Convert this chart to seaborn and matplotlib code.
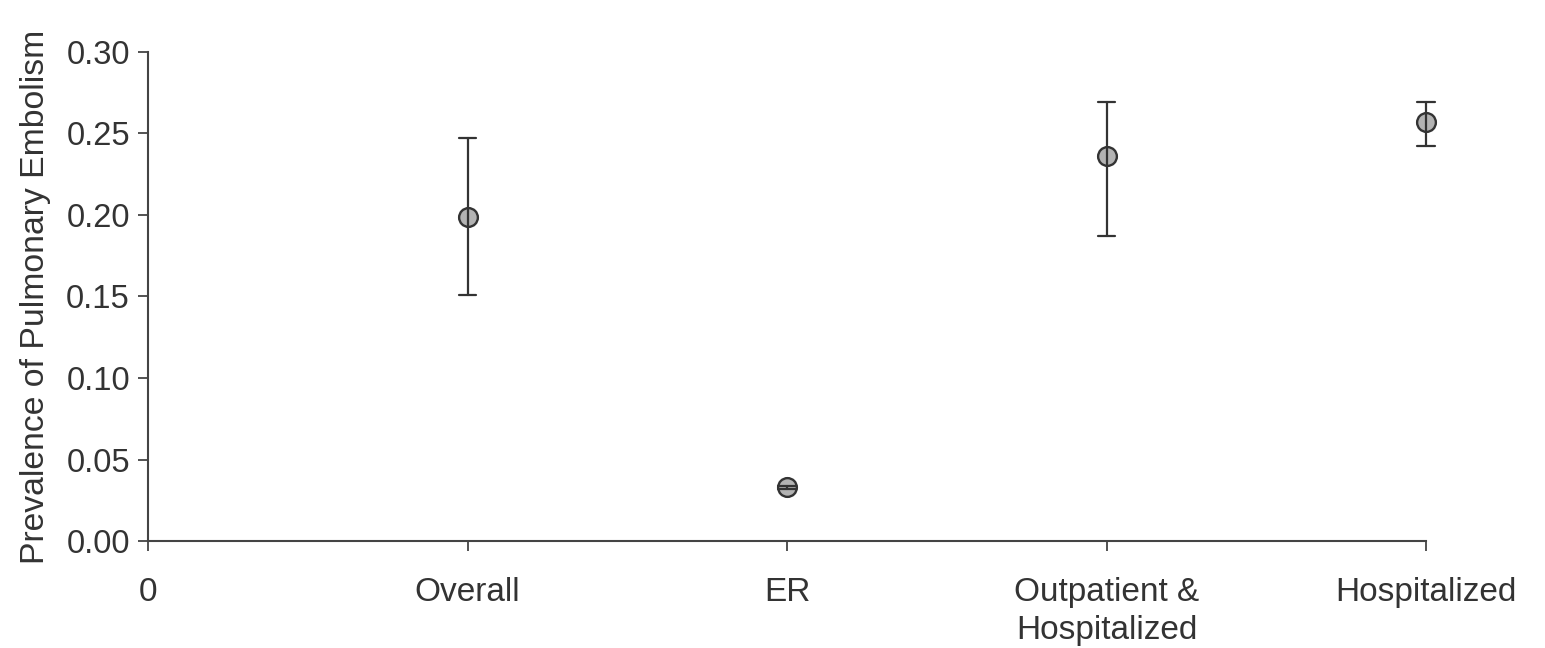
import pandas as pd
import matplotlib.pyplot as plt
import seaborn as sns

# Values: point estimate and interval bounds
categories = ['0', 'Overall', 'ER', 'Outpatient &\nHospitalized', 'Hospitalized']
groups = ['Overall', 'ER', 'Outpatient &\nHospitalized', 'Hospitalized']
prevalence = [0.199, 0.033, 0.236, 0.257]
lower = [0.151, 0.032, 0.187, 0.242]
upper = [0.247, 0.034, 0.269, 0.269]

# long form: low / estimate / high per group; median + full range gives the bars
rows = []
for g, lo, est, hi in zip(groups, lower, prevalence, upper):
    for v in (lo, est, hi):
        rows.append({'group': g, 'value': v})
df = pd.DataFrame(rows)

sns.set_style('ticks')
plt.rcParams['font.family'] = ['Liberation Sans', 'DejaVu Sans']
plt.rcParams['text.color'] = '#333333'
plt.rcParams['axes.labelcolor'] = '#333333'
plt.rcParams['xtick.color'] = '#444444'
plt.rcParams['ytick.color'] = '#444444'

fig, ax = plt.subplots(figsize=(15.45, 6.48), dpi=100)
fig.subplots_adjust(left=0.0958, right=0.923, bottom=0.165, top=0.92)

sns.pointplot(ax=ax, data=df, x='group', y='value', order=categories,
              estimator='median', errorbar=('pi', 100),
              linestyles='none', markers='o', color='#333333',
              capsize=0.056, err_kws={'linewidth': 1.6, 'color': '#333333'},
              markersize=13.5, markerfacecolor='#b3b3b3',
              markeredgecolor='#333333', markeredgewidth=1.7)

for art in ax.lines + list(ax.collections):
    art.set_clip_on(False)

ax.set_xlim(0, 4)
ax.set_ylim(0, 0.30)
ax.set_yticks([0.0, 0.05, 0.10, 0.15, 0.20, 0.25, 0.30])
ax.set_yticklabels([f'{t:.2f}' for t in ax.get_yticks()])
ax.set_xticks(range(len(categories)))
ax.set_xticklabels(categories, linespacing=1.3)

ax.set_xlabel('')
ax.set_ylabel('Prevalence of Pulmonary Embolism', fontsize=24.3, labelpad=11)
ax.tick_params(axis='x', labelsize=24, length=7, width=1.3, pad=19,
               labelcolor='#333333')
ax.tick_params(axis='y', labelsize=23.5, length=7, width=1.3, pad=6,
               labelcolor='#333333')

sns.despine(ax=ax)
for s in ('left', 'bottom'):
    ax.spines[s].set_color('#444444')
    ax.spines[s].set_linewidth(1.5)

plt.savefig('out.png', dpi=100)
